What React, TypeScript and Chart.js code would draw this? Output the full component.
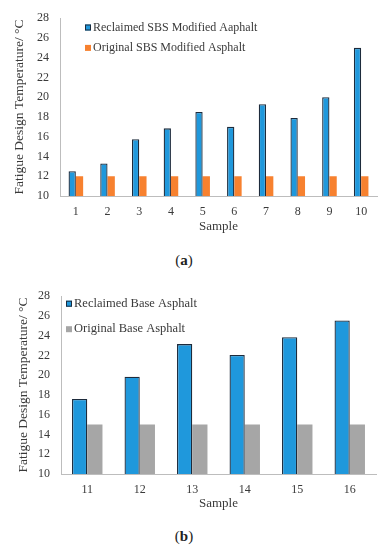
import React, { useEffect, useRef } from "react";
import { Chart, registerables } from "chart.js";

Chart.register(...registerables);

const samplesA = ["1", "2", "3", "4", "5", "6", "7", "8", "9", "10"];
const reclaimedSBS = [12.5, 13.3, 15.75, 16.85, 18.5, 17.0, 19.3, 17.9, 20.0, 25.0];
const originalSBS = [12, 12, 12, 12, 12, 12, 12, 12, 12, 12];

const samplesB = ["11", "12", "13", "14", "15", "16"];
const reclaimedBase = [17.6, 19.85, 23.15, 22.05, 23.85, 25.55];
const originalBase = [15, 15, 15, 15, 15, 15];

const yTitle = "Fatigue Design Temperature/ \u00B0C";
const FONT = "'Liberation Serif', 'Times New Roman', serif";
const TEXT = "#3a3a3a";
const BLUE = "#1f98dc";
const BLUE_BORDER = "#1d2b3c";
const ORANGE = "#f7812f";
const GRAY = "#a6a6a6";

const innerLegend = {
  id: "innerLegend",
  afterDatasetsDraw(chart: any, _args: any, opts: any) {
    const { ctx, chartArea } = chart;
    ctx.save();
    ctx.font = `${opts.fontSize}px ${FONT}`;
    ctx.textBaseline = "middle";
    ctx.textAlign = "left";
    chart.data.datasets.forEach((ds: any, i: number) => {
      const x = chartArea.left + opts.dx;
      const y = chartArea.top + opts.dy + i * opts.gap;
      const s = opts.box;
      ctx.fillStyle = ds.backgroundColor;
      ctx.fillRect(x, y - s / 2, s, s);
      if (ds.borderWidth) {
        ctx.strokeStyle = ds.borderColor;
        ctx.lineWidth = 1;
        ctx.strokeRect(x + 0.5, y - s / 2 + 0.5, s - 1, s - 1);
      }
      ctx.fillStyle = TEXT;
      ctx.fillText(ds.label, x + s + 2, y);
    });
    ctx.restore();
  },
};

function makeConfig(
  labels: string[],
  d1: number[],
  d2: number[],
  l1: string,
  l2: string,
  c2: string,
  p: any
) {
  return {
    type: "bar" as const,
    data: {
      labels,
      datasets: [
        {
          label: l1,
          data: d1,
          backgroundColor: BLUE,
          borderColor: BLUE_BORDER,
          borderWidth: 1.3,
          borderSkipped: "bottom",
          categoryPercentage: p.catPct,
          barPercentage: 1,
        },
        {
          label: l2,
          data: d2,
          backgroundColor: c2,
          borderWidth: 0,
          categoryPercentage: p.catPct,
          barPercentage: 1,
        },
      ],
    },
    options: {
      responsive: false,
      animation: false,
      layout: { padding: { top: 12, right: p.right, left: 0, bottom: 0 } },
      plugins: {
        legend: { display: false },
        tooltip: { enabled: false },
        innerLegend: p.legend,
      },
      scales: {
        x: {
          grid: { display: false, drawTicks: false },
          border: { display: true, color: "#bdbdbd", width: 1 },
          ticks: {
            color: TEXT,
            font: { family: FONT, size: 12 },
            padding: p.xPad,
            autoSkip: false,
            maxRotation: 0,
          },
          title: {
            display: true,
            text: "Sample",
            color: TEXT,
            font: { family: FONT, size: 13 },
            padding: { top: 0, bottom: p.sampleBottom },
          },
          afterFit(scale: any) {
            scale.height = 44;
          },
        },
        y: {
          min: 10,
          max: 28,
          grid: { display: false, drawTicks: false },
          border: { display: true, color: "#bdbdbd", width: 1 },
          ticks: {
            stepSize: 2,
            color: TEXT,
            font: { family: FONT, size: 12 },
            padding: 11,
          },
          title: {
            display: true,
            text: yTitle,
            color: TEXT,
            font: { family: FONT, size: 13.5 },
            padding: { top: p.titlePad, bottom: 0 },
          },
          afterFit(scale: any) {
            scale.width = p.yWidth;
          },
        },
      },
    },
    plugins: [innerLegend],
  };
}

function BarChart(props: { config: any; top: number }) {
  const ref = useRef<HTMLCanvasElement>(null);
  useEffect(() => {
    const chart = new Chart(ref.current as HTMLCanvasElement, props.config);
    return () => chart.destroy();
  }, []);
  return (
    <canvas
      ref={ref}
      width={391}
      height={240}
      style={{ position: "absolute", left: 0, top: props.top, width: 391, height: 240 }}
    />
  );
}

const configA = makeConfig(
  samplesA,
  reclaimedSBS,
  originalSBS,
  "Reclaimed SBS Modified Aaphalt",
  "Original SBS Modified Asphalt",
  ORANGE,
  {
    catPct: 0.46,
    right: 14,
    xPad: 9,
    sampleBottom: 6,
    titlePad: 11,
    yWidth: 60,
    legend: { dx: 25, dy: 9.3, gap: 20.4, box: 6, fontSize: 12 },
  }
);

const configB = makeConfig(
  samplesB,
  reclaimedBase,
  originalBase,
  "Reclaimed Base Asphalt",
  "Original Base Asphalt",
  GRAY,
  {
    catPct: 0.58,
    right: 15,
    xPad: 8.5,
    sampleBottom: 7,
    titlePad: 15,
    yWidth: 61,
    legend: { dx: 5, dy: 7.5, gap: 25.5, box: 6, fontSize: 12.5 },
  }
);

const captionStyle: React.CSSProperties = {
  position: "absolute",
  left: 164,
  width: 40,
  textAlign: "center",
  fontFamily: FONT,
  fontSize: 15,
  lineHeight: "20px",
  color: "#222",
};

export default function App() {
  return (
    <div style={{ position: "absolute", left: 0, top: 0, width: 391, height: 550, background: "#fff" }}>
      <BarChart config={configA} top={0} />
      <div style={{ ...captionStyle, top: 250 }}>
        (<b>a</b>)
      </div>
      <BarChart config={configB} top={278} />
      <div style={{ ...captionStyle, top: 526 }}>
        (<b>b</b>)
      </div>
    </div>
  );
}
